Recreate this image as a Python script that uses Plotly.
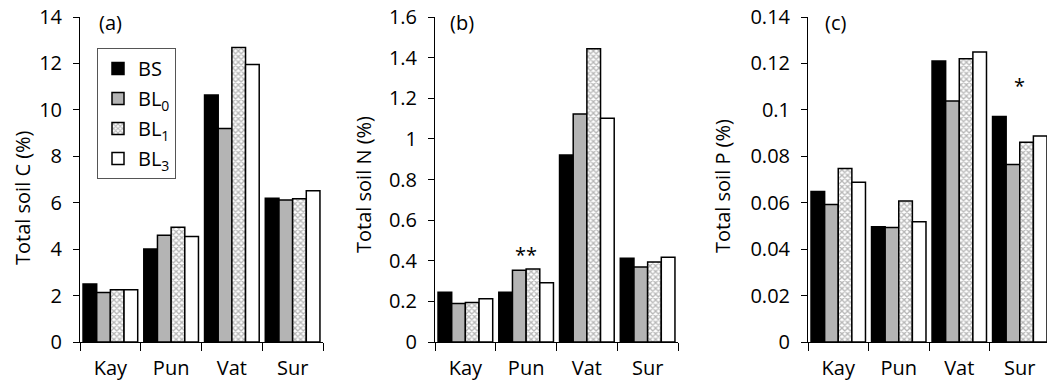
import plotly.graph_objects as go

sites = ["Kay", "Pun", "Vat", "Sur"]
treatments = ["BS", "BL<sub>0</sub>", "BL<sub>1</sub>", "BL<sub>3</sub>"]

soil_c = {
    "BS":  [2.50, 4.01, 10.64, 6.19],
    "BL0": [2.13, 4.60, 9.20, 6.12],
    "BL1": [2.25, 4.94, 12.69, 6.17],
    "BL3": [2.25, 4.54, 11.95, 6.52],
}
soil_n = {
    "BS":  [0.245, 0.245, 0.921, 0.412],
    "BL0": [0.189, 0.353, 1.122, 0.369],
    "BL1": [0.195, 0.359, 1.444, 0.394],
    "BL3": [0.213, 0.292, 1.101, 0.417],
}
soil_p = {
    "BS":  [0.0648, 0.0497, 0.1210, 0.0971],
    "BL0": [0.0592, 0.0493, 0.1038, 0.0765],
    "BL1": [0.0747, 0.0607, 0.1220, 0.0860],
    "BL3": [0.0688, 0.0518, 0.1249, 0.0887],
}

W, H = 1047, 383
FONT = "Open Sans"
FS = 20

keys = ["BS", "BL0", "BL1", "BL3"]
styles = {
    "BS":  dict(color="black"),
    "BL0": dict(color="#b4b4b4"),
    "BL1": dict(color="white", pattern=dict(shape="x", fgcolor="#6e6e6e", bgcolor="white",
                                             size=4, solidity=0.55)),
    "BL3": dict(color="white"),
}

fig = go.Figure()

panels = [(soil_c, "x", "y"), (soil_n, "x2", "y2"), (soil_p, "x3", "y3")]
for pi, (data, xa, ya) in enumerate(panels):
    for k, name in zip(keys, treatments):
        fig.add_trace(go.Bar(
            x=sites, y=data[k], name=name, xaxis=xa, yaxis=ya,
            marker=dict(**styles[k], line=dict(color="black", width=1.5)),
            showlegend=(pi == 0), legendgroup=k,
        ))

def px_x(v):
    return v / W

def px_y(v):
    return 1 - v / H

ydom = [px_y(342), px_y(17)]
xdoms = [[px_x(80), px_x(323)], [px_x(435), px_x(678)], [px_x(808), 1.0]]
xranges = [[-0.5, 3.5], [-0.5, 3.5], [-0.5, 3.45]]
yranges = [[0, 14], [0, 1.6], [0, 0.14]]
dticks = [2, 0.2, 0.02]

axis_common = dict(showline=True, linecolor="black", linewidth=1, ticks="outside",
                   tickcolor="black", showgrid=False, zeroline=False, automargin=False,
                   tickfont=dict(family=FONT, size=FS, color="black"))

for i in range(3):
    sfx = "" if i == 0 else str(i + 1)
    fig.layout["xaxis" + sfx] = dict(
        domain=xdoms[i], range=xranges[i], anchor="y" + sfx,
        tickson="boundaries", ticklen=8, ticklabelstandoff=8, **axis_common)
    fig.layout["yaxis" + sfx] = dict(
        domain=ydom, range=yranges[i], anchor="x" + sfx, dtick=dticks[i],
        ticklen=6, ticklabelstandoff=7, **axis_common)

annotations = []
# panel labels
for lbl, xpix in [("(a)", 97), ("(b)", 448), ("(c)", 823)]:
    annotations.append(dict(text=lbl, x=px_x(xpix), y=px_y(23), xref="paper", yref="paper",
                            xanchor="left", yanchor="middle", showarrow=False,
                            font=dict(family=FONT, size=FS, color="black")))
# y axis titles
for ttl, xpix, ypix in [("Total soil C (%)", 22, 198), ("Total soil N (%)", 363, 185),
                        ("Total soil P (%)", 722, 186)]:
    annotations.append(dict(text=ttl, x=px_x(xpix), y=px_y(ypix), xref="paper", yref="paper",
                            xanchor="center", yanchor="middle", textangle=-90, showarrow=False,
                            font=dict(family=FONT, size=FS, color="black")))
# significance markers
annotations.append(dict(text="**", x=1, y=0.355, xref="x2", yref="y2", xanchor="center",
                        yanchor="bottom", showarrow=False,
                        font=dict(family=FONT, size=FS, color="black")))
annotations.append(dict(text="*", x=3, y=0.104, xref="x3", yref="y3", xanchor="center",
                        yanchor="bottom", showarrow=False,
                        font=dict(family=FONT, size=FS, color="black")))

fig.update_layout(
    width=W, height=H,
    margin=dict(l=0, r=0, t=0, b=0, autoexpand=False),
    paper_bgcolor="white", plot_bgcolor="white",
    barmode="group", bargap=0.1, bargroupgap=0,
    annotations=annotations,
    showlegend=True,
    legend=dict(x=px_x(97), y=px_y(48), xanchor="left", yanchor="top",
                bordercolor="#555555", borderwidth=1, bgcolor="white",
                font=dict(family=FONT, size=FS, color="black"),
                traceorder="grouped", tracegroupgap=1),
)

fig.write_html("out.html")
